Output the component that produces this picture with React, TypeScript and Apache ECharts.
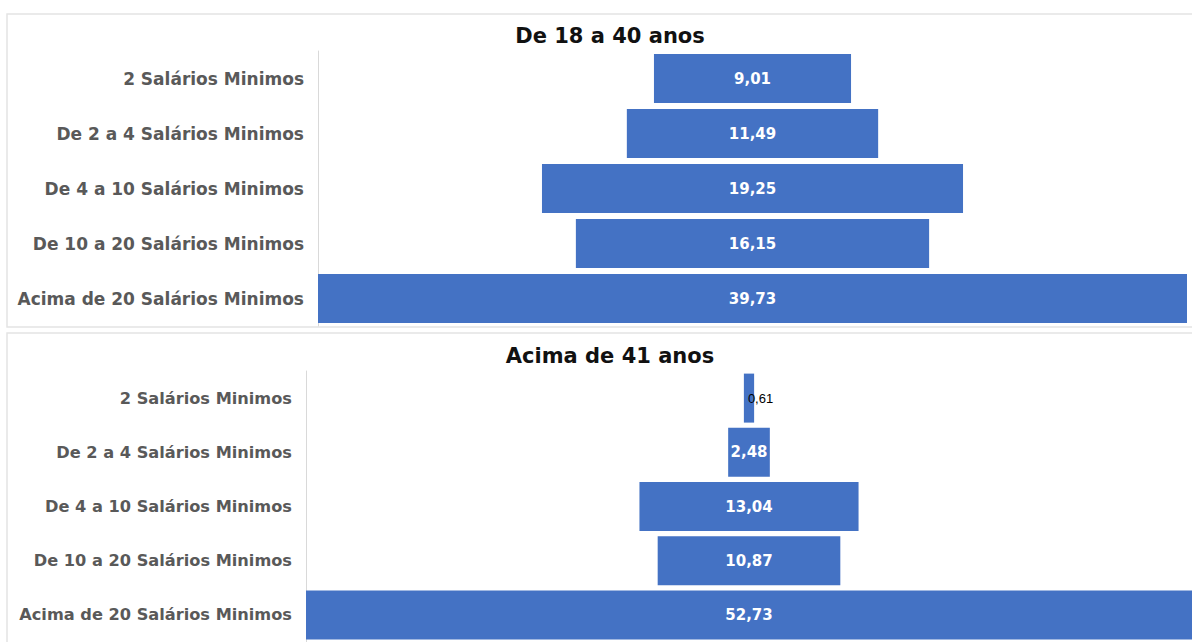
import React, { useEffect, useRef } from "react";
import * as echarts from "echarts";

// Income brackets (top to bottom)
const categories = [
  "2 Salários Minimos",
  "De 2 a 4 Salários Minimos",
  "De 4 a 10 Salários Minimos",
  "De 10 a 20 Salários Minimos",
  "Acima de 20 Salários Minimos",
];

// Share (%) per bracket for each age group
const youngValues = [9.01, 11.49, 19.25, 16.15, 39.73];
const olderValues = [0.61, 2.48, 13.04, 10.87, 52.73];

const panelTitles = ["De 18 a 40 anos", "Acima de 41 anos"];

const BAR_COLOR = "#4472C4";
const LABEL_FONT = "'DejaVu Sans', 'Liberation Sans', Arial, sans-serif";

const fmt = (v: number) => v.toFixed(2).replace(".", ",");

// Centred bars: an invisible spacer of (max - v) / 2 stacked before each value
function spacer(values: number[]) {
  const max = Math.max(...values);
  return values.map((v) => (max - v) / 2);
}

function valueSeries(values: number[], idx: number, smallLabelIndex: number | null) {
  return {
    type: "bar",
    name: panelTitles[idx],
    xAxisIndex: idx,
    yAxisIndex: idx,
    stack: "s" + idx,
    barWidth: 49,
    itemStyle: { color: BAR_COLOR },
    label: {
      show: true,
      position: "inside",
      color: "#ffffff",
      fontFamily: LABEL_FONT,
      fontWeight: "bold",
      fontSize: 15,
      formatter: (p: any) => fmt(p.value),
    },
    data: values.map((v, i) =>
      i === smallLabelIndex
        ? {
            value: v,
            label: {
              show: true,
              position: "insideLeft",
              distance: 4,
              color: "#000000",
              fontFamily: "'Liberation Sans', Arial, sans-serif",
              fontWeight: "normal",
              fontSize: 13,
              formatter: (p: any) => fmt(p.value),
            },
          }
        : v
    ),
  };
}

function spacerSeries(values: number[], idx: number) {
  return {
    type: "bar",
    xAxisIndex: idx,
    yAxisIndex: idx,
    stack: "s" + idx,
    barWidth: 49,
    silent: true,
    itemStyle: { color: "transparent" },
    label: { show: false },
    data: spacer(values),
  };
}

function categoryAxis(gridIndex: number, fontSize: number) {
  return {
    type: "category",
    gridIndex,
    data: categories,
    inverse: true,
    axisTick: { show: false },
    axisLine: { show: true, lineStyle: { color: "#d9d9d9", width: 1 } },
    axisLabel: {
      color: "#595959",
      fontFamily: LABEL_FONT,
      fontWeight: "bold",
      fontSize,
      margin: 14,
    },
  };
}

export default function App() {
  const ref = useRef<HTMLDivElement>(null);

  useEffect(() => {
    if (!ref.current) return;
    const chart = echarts.init(ref.current, undefined, { renderer: "svg" });

    const titleStyle = {
      fontFamily: LABEL_FONT,
      fontWeight: "bold",
      fontSize: 21,
      color: "#111111",
    };

    chart.setOption({
      animation: false,
      backgroundColor: "#ffffff",
      title: [
        { text: panelTitles[0], left: 605, top: 20, textAlign: "center", textStyle: titleStyle },
        { text: panelTitles[1], left: 605, top: 340, textAlign: "center", textStyle: titleStyle },
      ],
      graphic: [
        {
          type: "rect",
          z: -10,
          shape: { x: 7, y: 14, width: 1200, height: 313 },
          style: { fill: "none", stroke: "#e4e4e4", lineWidth: 1.5 },
        },
        {
          type: "rect",
          z: -10,
          shape: { x: 7, y: 333, width: 1200, height: 330 },
          style: { fill: "none", stroke: "#e4e4e4", lineWidth: 1.5 },
        },
      ],
      grid: [
        { left: 318, top: 51, width: 869, height: 275 },
        { left: 306, top: 371, width: 886, height: 275 },
      ],
      xAxis: [
        { type: "value", gridIndex: 0, min: 0, max: Math.max(...youngValues), show: false },
        { type: "value", gridIndex: 1, min: 0, max: Math.max(...olderValues), show: false },
      ],
      yAxis: [categoryAxis(0, 17), categoryAxis(1, 16.2)],
      series: [
        spacerSeries(youngValues, 0),
        valueSeries(youngValues, 0, null),
        spacerSeries(olderValues, 1),
        valueSeries(olderValues, 1, 0),
      ],
    });

    return () => chart.dispose();
  }, []);

  return (
    <div
      ref={ref}
      style={{ position: "absolute", left: 0, top: 0, width: 1192, height: 642 }}
    />
  );
}
